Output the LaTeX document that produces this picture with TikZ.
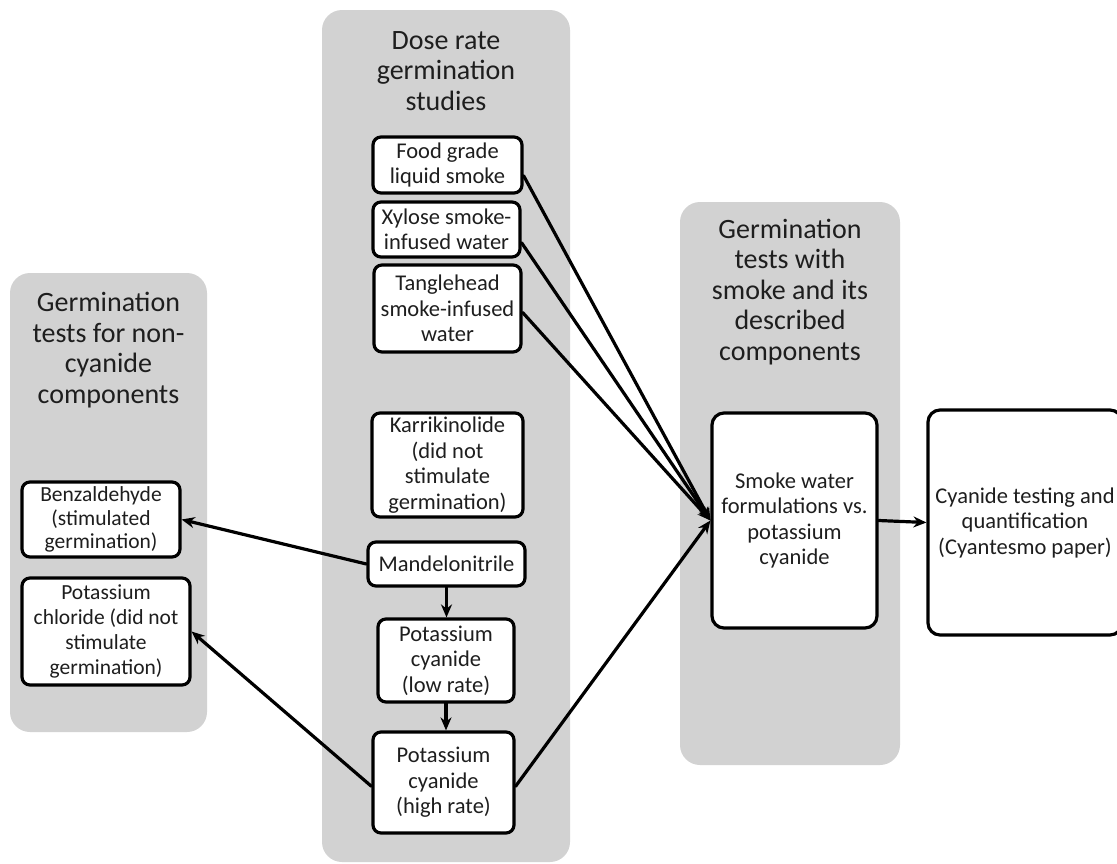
\documentclass[tikz,border=0pt]{standalone}
\usepackage{fontspec}
\setmainfont{Carlito}
\usetikzlibrary{arrows.meta}
\definecolor{panelgray}{RGB}{210,210,210}
\definecolor{ink}{RGB}{30,30,30}
\begin{document}
\begin{tikzpicture}[x=1pt, y=-1pt, line cap=round, line join=round,
    panel/.style={fill=panelgray, rounded corners=20pt},
    title/.style={align=center, inner sep=0pt, text=ink, font=\fontsize{28}{30.5}\selectfont},
    box/.style={draw, fill=white, line width=3.2pt, rounded corners=8pt, text=ink,
      align=center, inner sep=0pt, font=\fontsize{22.5}{25.5}\selectfont},
    arr/.style={line width=3.2pt, -{Stealth[length=13pt, width=11pt]}}]
  \useasboundingbox (0,0) rectangle (1117,863);
  % grey panels
  \fill[panel] (10,273) rectangle (207,732);
  \fill[panel] (322,10) rectangle (570,862);
  \fill[panel] (680,202) rectangle (900,765);
  \node[title] (tleft) at (108.5,350) {Germination\\tests for non-\\cyanide\\components};
  \node[title] (tmid) at (446,71) {Dose rate\\germination\\studies};
  \node[title] (tright) at (790,292) {Germination\\tests with\\smoke and its\\described\\components};
  % non-cyanide components
  \node[box, minimum width=158pt, minimum height=75pt, font=\fontsize{21.5}{23.5}\selectfont] (benz) at (101,519.5)
    {Benzaldehyde\\(stimulated\\germination)};
  \node[box, minimum width=168pt, minimum height=107pt, font=\fontsize{21.5}{25}\selectfont] (kcl) at (106,631.5)
    {Potassium\\chloride (did not\\stimulate\\germination)};
  % dose rate studies
  \node[box, minimum width=149pt, minimum height=56pt] (food) at (447.5,165)
    {Food grade\\liquid smoke};
  \node[box, minimum width=147pt, minimum height=55pt] (xyl) at (446.5,229.5)
    {Xylose smoke-\\infused water};
  \node[box, minimum width=147pt, minimum height=87pt] (tangle) at (447.5,308.5)
    {Tanglehead\\smoke-infused\\water};
  \node[box, minimum width=151pt, minimum height=104pt] (karr) at (447.5,465)
    {Karrikinolide\\(did not\\stimulate\\germination)};
  \node[box, minimum width=157pt, minimum height=44pt] (mand) at (446.5,564)
    {Mandelonitrile};
  \node[box, minimum width=136pt, minimum height=83pt] (klow) at (446,660.5)
    {Potassium\\cyanide\\(low rate)};
  \node[box, minimum width=141pt, minimum height=101pt] (khigh) at (443.5,782.5)
    {Potassium\\cyanide\\(high rate)};
  % smoke and cyanide
  \node[box, rounded corners=12pt, minimum width=165pt, minimum height=215pt] (smoke) at (794.5,520.5)
    {Smoke water\\formulations vs.\\potassium\\cyanide};
  \node[box, rounded corners=12pt, minimum width=194pt, minimum height=225pt] (cyan) at (1025,522.5)
    {Cyanide testing and\\quantification\\(Cyantesmo paper)};
  % connectors
  \draw[arr] (food.-8) -- (smoke.west);
  \draw[arr] (xyl.-10) -- (smoke.west);
  \draw[arr] (tangle.-3) -- (smoke.west);
  \draw[arr] (khigh.-3) -- (smoke.west);
  \draw[arr] (mand.west) -- (benz.east);
  \draw[arr] (khigh.-3 -| khigh.west) -- (kcl.east);
  \draw[arr] (mand.south) -- (mand.south |- klow.north);
  \draw[arr] (klow.south) -- (klow.south |- khigh.north);
  \draw[arr] (smoke.east) -- (cyan.west);
\end{tikzpicture}
\end{document}
